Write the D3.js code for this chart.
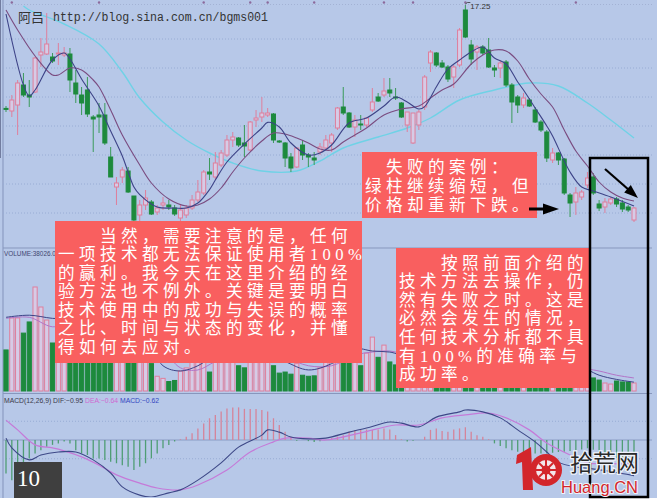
<!DOCTYPE html>
<html><head><meta charset="utf-8">
<script src="https://cdn.jsdelivr.net/npm/d3@7"></script>
<style>html,body{margin:0;padding:0;background:#fff}svg{display:block}</style>
</head><body><div id="chart"></div>
<script>
const W = 657, H = 502;

// ---- daily price data (one entry per trading day) ----
const opens  = [12.03,11.90,12.20,13.20,12.70,12.85,14.70,14.75,14.60,14.75,14.70,14.75,13.30,12.70,12.95,11.60,11.70,11.70,9.60,8.10,8.60,8.90,7.65,6.70,7.20,7.35,6.85,7.20,7.20,7.05,6.55,6.70,7.05,7.45,7.80,8.85,8.60,9.20,9.70,10.45,10.55,10.30,9.95,11.45,11.60,11.70,11.75,10.40,10.30,9.60,9.10,10.20,9.70,9.55,9.85,10.05,10.30,11.05,12.10,11.80,11.10,11.25,11.20,11.95,12.60,12.70,12.95,12.60,12.30,11.20,10.30,11.20,12.10,14.30,14.80,14.30,14.10,13.60,14.20,16.95,15.20,14.85,15.10,14.95,14.05,14.05,14.35,13.20,12.60,12.20,12.45,11.95,11.35,10.85,9.45,9.80,9.50,7.70,7.35,7.60,8.20,8.60,7.25,7.10,7.30,7.50,7.30,7.10,6.45];
const highs  = [12.15,12.70,13.45,13.80,13.45,14.60,15.55,16.80,14.80,15.30,15.10,15.05,13.95,13.10,13.60,11.70,12.30,12.30,10.10,8.60,9.10,9.10,7.65,7.45,7.95,7.45,7.20,7.60,7.45,7.20,7.20,7.20,7.70,8.45,8.95,9.55,9.85,9.95,10.70,10.85,10.60,11.20,11.40,11.95,12.60,12.05,11.80,10.45,10.35,9.80,10.10,10.45,9.80,9.85,10.30,10.70,10.80,12.10,13.10,11.85,11.70,11.70,11.60,13.05,12.80,13.55,13.55,13.05,12.35,11.85,11.80,11.95,13.70,14.95,14.85,14.45,14.20,14.20,16.05,17.25,15.45,15.20,15.20,15.55,14.20,14.45,14.45,13.30,12.70,12.80,12.55,12.10,11.45,10.95,10.05,9.85,9.55,7.80,8.10,7.95,8.85,8.80,7.45,7.55,7.60,7.60,7.45,7.20,7.10];
const lows   = [11.85,11.60,10.70,12.60,12.10,12.80,14.10,14.70,14.30,14.20,14.60,12.85,12.30,11.70,11.60,9.85,10.80,10.20,8.60,7.20,8.30,7.80,6.35,6.20,6.95,6.70,6.70,6.95,6.95,6.65,6.35,6.55,6.95,7.35,7.70,8.45,8.45,9.10,9.60,10.10,10.10,9.60,9.90,11.10,11.35,11.60,10.30,10.30,9.10,8.85,9.05,9.45,9.10,9.20,9.70,9.95,9.85,10.95,11.70,11.05,10.60,10.95,11.10,11.85,12.35,12.60,12.60,12.45,11.55,10.85,10.25,10.95,11.95,13.85,14.10,14.05,13.35,13.05,14.10,15.55,14.20,13.95,14.70,14.05,13.60,13.55,13.10,11.30,11.80,12.05,12.10,11.30,10.85,9.35,9.30,9.20,7.70,6.60,6.70,7.45,8.05,7.70,6.90,6.80,7.20,7.10,6.85,6.85,6.35];
const closes = [11.98,12.45,13.30,12.70,12.60,14.55,14.85,15.25,14.40,14.80,14.80,13.45,12.75,12.30,11.75,11.50,11.60,10.30,8.60,8.30,8.95,7.85,6.45,7.20,7.55,6.75,7.05,7.30,7.10,6.75,6.95,7.05,7.45,7.85,8.85,8.75,9.30,9.80,10.45,10.60,10.20,10.15,11.35,11.55,11.80,11.80,10.45,10.35,9.55,9.05,10.05,9.70,9.60,9.45,10.10,10.45,10.70,12.05,11.80,11.10,11.45,11.20,11.55,12.35,12.40,12.90,12.80,12.55,11.60,11.85,11.80,11.85,13.60,14.85,14.20,14.10,13.50,14.10,15.95,15.60,14.50,15.10,14.80,14.10,13.95,14.30,13.20,12.35,12.20,12.55,12.15,11.35,10.95,9.55,9.80,9.45,7.80,7.30,7.80,7.85,8.55,7.80,7.05,7.35,7.50,7.25,7.00,6.95,7.05];
const volumes = [195000,347000,347000,275000,328000,494000,399000,337000,228000,300000,280000,420000,380000,330000,400000,250000,220000,360000,420000,260000,200000,300000,350000,250000,150000,130000,70000,60000,45000,50000,95000,110000,150000,200000,260000,90000,200000,180000,220000,160000,120000,110000,250000,170000,200000,140000,120000,85000,90000,80000,130000,75000,70000,72000,110000,140000,160000,300000,220000,150000,140000,120000,180000,256000,160000,218000,138000,124000,150000,140000,200000,150000,280000,330000,260000,180000,200000,220000,380000,450000,300000,250000,200000,260000,150000,160000,240000,280000,150000,120000,100000,140000,120000,200000,100000,90000,180000,150000,130000,80000,100000,62000,52000,38000,33000,47500,43000,43000,38026];
const macdHist = [-0.89,-1.07,-0.80,-0.67,-0.49,-0.36,-0.27,-0.18,-0.13,-0.09,-0.04,-0.09,-0.27,-0.36,-0.40,-0.49,-0.49,-0.53,-0.58,-0.62,-0.67,-0.71,-0.80,-0.71,-0.62,-0.49,-0.36,-0.22,-0.13,-0.04,0.02,0.09,0.18,0.31,0.44,0.58,0.67,0.76,0.84,0.87,0.87,0.83,0.83,0.83,0.80,0.76,0.58,0.40,0.22,0.09,-0.02,0.00,-0.03,-0.05,-0.03,0.01,0.05,0.09,0.13,0.22,0.27,0.28,0.28,0.27,0.28,0.31,0.28,0.13,0.02,-0.04,-0.02,0.00,0.09,0.27,0.31,0.24,0.22,0.28,0.31,0.34,0.22,0.13,0.09,0.02,-0.09,-0.16,-0.22,-0.27,-0.31,-0.34,-0.36,-0.36,-0.36,-0.36,-0.34,-0.32,-0.31,-0.29,-0.27,-0.25,-0.22,-0.26,-0.32,-0.38,-0.43,-0.48,-0.53,-0.58,-0.62];

// ---- indicator lines: [day index, value] ----
const ma5 = [[0,16.75],[3,13.20],[4,12.65],[5,12.95],[8,14.45],[10,14.80],[11,14.50],[13,13.50],[16,12.15],[18,10.90],[20,9.65],[21,8.85],[22,8.10],[23,7.72],[26,7.10],[29,7.05],[31,7.05],[33,7.30],[35,7.97],[36,8.45],[38,9.35],[41,10.25],[44,11.05],[45,11.33],[47,11.10],[49,10.30],[52,9.70],[54,9.80],[56,10.20],[59,11.30],[62,11.55],[65,12.15],[67,12.60],[69,12.35],[71,12.00],[72,12.12],[74,13.10],[76,14.00],[78,14.45],[80,14.85],[82,15.10],[84,14.55],[86,14.25],[88,13.35],[89,12.95],[91,12.05],[93,11.15],[94,10.65],[97,8.85],[99,8.10],[101,7.90],[104,7.60],[108,7.15]];
const ma10 = [[0,16.95],[2,15.95],[5,14.65],[8,13.70],[9,13.70],[11,14.05],[13,13.95],[15,13.45],[16,13.10],[18,11.95],[20,10.70],[23,9.20],[25,8.30],[28,7.50],[31,7.15],[33,7.20],[35,7.50],[37,8.05],[39,8.85],[41,9.55],[44,10.40],[46,10.80],[48,10.75],[50,10.55],[52,10.30],[54,10.00],[56,9.95],[58,10.35],[60,10.70],[62,11.05],[65,11.70],[68,12.00],[71,12.15],[73,12.55],[75,12.95],[77,13.25],[80,14.25],[82,14.70],[84,14.95],[86,14.90],[88,14.40],[90,13.50],[92,12.75],[94,12.10],[96,10.95],[98,9.90],[100,9.15],[102,8.35],[104,7.85],[106,7.55],[108,7.40]];
const ma60 = [[3,17.15],[4,16.95],[10,16.25],[16,15.25],[20,13.85],[23,12.55],[27,11.35],[31,10.45],[35,9.80],[39,9.30],[44,8.90],[50,8.90],[54,9.40],[58,10.05],[64,10.60],[69,11.05],[73,11.55],[78,12.45],[84,12.95],[90,13.30],[95,13.15],[100,12.30],[104,11.45],[108,10.55]];
const volMa5 = [[0,350000],[4,360000],[8,345000],[12,340000],[16,330000],[20,330000],[24,250000],[27,120000],[30,95000],[33,120000],[36,170000],[40,200000],[44,190000],[48,140000],[52,100000],[56,130000],[60,200000],[63,190000],[66,185000],[69,170000],[73,240000],[77,270000],[80,300000],[84,230000],[88,190000],[92,130000],[96,130000],[100,100000],[102,75000],[105,55000],[108,42000]];
const volMa10 = [[0,345000],[4,350000],[8,305000],[12,330000],[16,330000],[20,320000],[24,290000],[27,200000],[30,110000],[33,100000],[36,140000],[40,180000],[44,190000],[48,160000],[52,120000],[56,120000],[60,170000],[63,185000],[66,190000],[69,175000],[73,200000],[77,240000],[80,280000],[84,260000],[88,220000],[92,170000],[96,130000],[100,105000],[102,95000],[105,75000],[108,62000]];
const dif = [[0,0.05],[1,-0.21],[4,-0.53],[6,-0.40],[9,-0.32],[12,-0.32],[15,-0.53],[18,-0.88],[20,-1.25],[23,-1.47],[25,-1.52],[28,-1.41],[30,-1.33],[33,-1.07],[37,-0.61],[40,-0.19],[44,0.13],[45,0.27],[47,0.21],[49,0.08],[52,0.03],[55,0.05],[59,0.21],[62,0.32],[66,0.48],[68,0.45],[71,0.35],[74,0.61],[78,0.75],[79,0.80],[82,0.75],[85,0.59],[88,0.27],[91,-0.05],[93,-0.32],[95,-0.59],[98,-0.72],[100,-0.75],[104,-0.84],[108,-0.95]];
const dea = [[0,0.53],[2,0.27],[5,-0.13],[8,-0.21],[10,-0.29],[13,-0.45],[16,-0.67],[19,-0.93],[23,-1.15],[26,-1.28],[30,-1.33],[33,-1.20],[38,-0.80],[42,-0.32],[46,-0.05],[48,0.05],[52,0.05],[55,0.00],[61,0.19],[67,0.40],[71,0.40],[75,0.59],[79,0.67],[83,0.72],[86,0.59],[90,0.27],[93,-0.08],[97,-0.40],[100,-0.61],[104,-0.63],[108,-0.64]];

// ---- reference levels and markers ----
const priceGrid = [15.5, 14.05, 12.6, 11.15, 9.7, 8.25, 6.8];
const macdGrid = [0.5, -0.5];
const eventDays = [1, 16, 34, 42, 45, 53, 65, 70, 79, 98];
const peakDay = 79;
const cursorDay = 101.5;

// ---- annotation texts ----
const noteMain = ["\u3000\u3000当然，需要注意的是，任何","一项技术都无法保证使用者100%","的赢利。我今天在这里介绍的经","验方法也不例外。关键是要明白","技术使用中的成功与失误的概率","之比、时间与状态的变化，并懂","得如何去应对。"];
const noteRight = ["\u3000\u3000按照前面介绍的","技术方法去操作，仍","然有失败之时。这是","必然会发生的情况，","任何技术分析都不具","有100%的准确率与","成功率。"];
const noteFail = ["\u3000失败的案例：","绿柱继续缩短，但","价格却重新下跌。"];

const days = d3.range(opens.length);
const x = d3.scalePoint().domain(days).range([6, 634]);
const yP = d3.scaleLinear().domain([17.45, 5.0]).range([0, 249]);
const yV = d3.scaleLinear().domain([0, 630000]).range([391, 258.37]);
const yM = d3.scaleLinear().domain([-1.5, 1.5]).range([496.25, 383.75]);

const UP = "#df7f9c", UPFILL = "#d6cbe6", DOWN = "#1d8a3d";

const svg = d3.select("#chart").append("svg").attr("width", W).attr("height", H);
svg.append("rect").attr("width", W).attr("height", H).attr("fill", "#fff");
svg.append("rect").attr("width", W).attr("height", 498).attr("fill", "#b7c8e8");

const defs = svg.append("defs");
defs.append("clipPath").attr("id", "cp").append("rect").attr("x", 3).attr("y", 5).attr("width", 650).attr("height", 242);
defs.append("clipPath").attr("id", "cv").append("rect").attr("x", 3).attr("y", 249).attr("width", 650).attr("height", 143);
defs.append("clipPath").attr("id", "cm").append("rect").attr("x", 3).attr("y", 395).attr("width", 650).attr("height", 102);

// frame lines
svg.append("line").attr("x1", 3).attr("x2", 3).attr("y1", 0).attr("y2", 498).attr("stroke", "#8393bb");
svg.append("line").attr("x1", 3).attr("x2", 652).attr("y1", 4.5).attr("y2", 4.5).attr("stroke", "#a3b2d4").attr("stroke-dasharray", "1,2");
svg.append("line").attr("x1", 3).attr("x2", 652).attr("y1", 248).attr("y2", 248).attr("stroke", "#8797bd");
svg.append("line").attr("x1", 3).attr("x2", 652).attr("y1", 393.5).attr("y2", 393.5).attr("stroke", "#8797bd");

// event markers along the top edge
svg.append("g").selectAll("circle").data(eventDays).join("circle")
  .attr("cx", d => x(d)).attr("cy", 2.5).attr("r", 1.2).attr("fill", "#8c6a9c");

// ---------- price panel ----------
const gp = svg.append("g").attr("clip-path", "url(#cp)");
gp.selectAll(".grid").data(priceGrid).join("line")
  .attr("x1", 3).attr("x2", 652).attr("y1", d => yP(d)).attr("y2", d => yP(d))
  .attr("stroke", "#98acd4").attr("stroke-dasharray", "1,2");

const curve = d3.curveCatmullRom.alpha(0.5);
const lineP = d3.line().x(d => x(d[0])).y(d => yP(d[1])).curve(curve);
gp.append("path").attr("d", lineP(ma60)).attr("fill", "none").attr("stroke", "#6fd2e6").attr("stroke-width", 1.4);

const candles = gp.selectAll(".c").data(days).join("g");
candles.append("line")
  .attr("x1", i => x(i)).attr("x2", i => x(i))
  .attr("y1", i => yP(highs[i])).attr("y2", i => yP(lows[i]))
  .attr("stroke", i => closes[i] >= opens[i] ? UP : "#3b9a5a").attr("stroke-width", 1);
candles.append("rect")
  .attr("x", i => x(i) - 2).attr("width", 4)
  .attr("y", i => yP(Math.max(opens[i], closes[i])))
  .attr("height", i => Math.max(1, Math.abs(yP(opens[i]) - yP(closes[i]))))
  .attr("fill", i => closes[i] >= opens[i] ? UPFILL : DOWN)
  .attr("stroke", i => closes[i] >= opens[i] ? UP : DOWN).attr("stroke-width", 1);

gp.append("path").attr("d", lineP(ma10)).attr("fill", "none").attr("stroke", "#7a4c80").attr("stroke-width", 1.1);
gp.append("path").attr("d", lineP(ma5)).attr("fill", "none").attr("stroke", "#3d4387").attr("stroke-width", 1.1);

// peak price label
const px = x(peakDay), py = yP(highs[peakDay]);
svg.append("path").attr("d", `M${px},${py} L${px + 2},${py - 1.5} L${px + 5},${py - 1.5}`)
  .attr("fill", "none").attr("stroke", "#333").attr("stroke-width", 0.8);
svg.append("text").attr("x", px + 5).attr("y", py + 5).attr("font-family", "Liberation Sans, Arial")
  .attr("font-size", 8).attr("fill", "#333").text(d3.format(".2f")(highs[peakDay]));

// cursor line
svg.append("line").attr("x1", x(cursorDay)).attr("x2", x(cursorDay)).attr("y1", 0).attr("y2", 158)
  .attr("stroke", "#2e3358").attr("stroke-width", 1);

// blog header
svg.append("text").attr("x", 18).attr("y", 22).attr("font-family", "Noto Sans CJK SC").attr("font-size", 13)
  .attr("fill", "#333").text("阿吕");
svg.append("text").attr("x", 53).attr("y", 21).attr("font-family", "Liberation Mono, monospace").attr("font-size", 12)
  .attr("fill", "#333").attr("textLength", 215).attr("lengthAdjust", "spacingAndGlyphs").text("http://blog.sina.com.cn/bgms001");

// ---------- volume panel ----------
const gv = svg.append("g").attr("clip-path", "url(#cv)");
gv.selectAll("rect").data(days).join("rect")
  .attr("x", i => x(i) - 2.1).attr("width", 4.2)
  .attr("y", i => yV(volumes[i])).attr("height", i => yV(0) - yV(volumes[i]))
  .attr("fill", i => closes[i] >= opens[i] ? UPFILL : DOWN)
  .attr("stroke", i => closes[i] >= opens[i] ? UP : DOWN).attr("stroke-width", 1);
const lineV = d3.line().x(d => x(d[0])).y(d => yV(d[1])).curve(curve);
gv.append("path").attr("d", lineV(volMa10)).attr("fill", "none").attr("stroke", "#b274c8").attr("stroke-width", 1);
gv.append("path").attr("d", lineV(volMa5)).attr("fill", "none").attr("stroke", "#3d4387").attr("stroke-width", 1);
svg.append("text").attr("x", 4).attr("y", 255.5).attr("font-family", "Liberation Sans, Arial").attr("font-size", 6.4)
  .attr("fill", "#3e4670").text("VOLUME:" + d3.format(".2f")(volumes[volumes.length - 1]));

// ---------- MACD panel ----------
const gm = svg.append("g").attr("clip-path", "url(#cm)");
gm.selectAll(".g").data(macdGrid).join("line")
  .attr("x1", 3).attr("x2", 652).attr("y1", d => yM(d)).attr("y2", d => yM(d))
  .attr("stroke", "#98acd4").attr("stroke-dasharray", "1,2");
gm.append("line").attr("x1", 3).attr("x2", 652).attr("y1", yM(0)).attr("y2", yM(0)).attr("stroke", "#8a9cc4");
gm.selectAll(".h").data(days).join("line")
  .attr("x1", i => x(i)).attr("x2", i => x(i))
  .attr("y1", yM(0)).attr("y2", i => yM(macdHist[i]))
  .attr("stroke", i => macdHist[i] >= 0 ? "#d5849a" : "#4f9d74").attr("stroke-width", 1.3);
const lineM = d3.line().x(d => x(d[0])).y(d => yM(d[1])).curve(curve);
gm.append("path").attr("d", lineM(dea)).attr("fill", "none").attr("stroke", "#c57ad8").attr("stroke-width", 1.2);
gm.append("path").attr("d", lineM(dif)).attr("fill", "none").attr("stroke", "#3d4887").attr("stroke-width", 1.1);
const ml = svg.append("text").attr("x", 4).attr("y", 402.5).attr("font-family", "Liberation Sans, Arial").attr("font-size", 6.8);
ml.append("tspan").attr("fill", "#3a3a4a").text("MACD(12,26,9) DIF:" + d3.format(".2f")(dif[dif.length - 1][1]) + " ");
ml.append("tspan").attr("fill", "#d067d0").text("DEA:" + d3.format(".2f")(dea[dea.length - 1][1]) + " ");
ml.append("tspan").attr("fill", "#3346c0").text("MACD:" + d3.format(".2f")(macdHist[macdHist.length - 1]));

// ---------- annotation boxes ----------
function noteBox(rx, ry, rw, rh, lines, tx, ty, pitch) {
  const g = svg.append("g");
  g.append("rect").attr("x", rx).attr("y", ry).attr("width", rw).attr("height", rh).attr("fill", "#f95f5f");
  g.selectAll("text").data(lines).join("text")
    .attr("x", tx).attr("y", (d, i) => ty + i * pitch)
    .attr("font-family", "'Liberation Serif', 'Noto Sans CJK SC'").attr("font-size", 16.6)
    .attr("letter-spacing", 4.4)
    .attr("fill", "#fff").text(d => d);
}
noteBox(55, 221, 307, 142, noteMain, 58, 241.5, 18.5);
noteBox(396, 248, 193, 140, noteRight, 399, 268.5, 18.6);
noteBox(362, 152, 175, 66, noteFail, 365, 173, 19);

// arrows
svg.append("line").attr("x1", 529).attr("x2", 545).attr("y1", 209).attr("y2", 209).attr("stroke", "#000").attr("stroke-width", 3);
svg.append("path").attr("d", "M543,203.5 L559,209 L543,214.5 Z").attr("fill", "#000");
svg.append("line").attr("x1", 605).attr("y1", 169).attr("x2", 629).attr("y2", 190).attr("stroke", "#000").attr("stroke-width", 2.2);
svg.append("path").attr("d", "M638,198 L624.2,192.6 L630.8,185.1 Z").attr("fill", "#000");

// highlight frame
svg.append("rect").attr("x", 590).attr("y", 158).attr("width", 58).attr("height", 339)
  .attr("fill", "none").attr("stroke", "#000").attr("stroke-width", 2.5);

// page number
svg.append("rect").attr("x", 14).attr("y", 462).attr("width", 48).attr("height", 36).attr("fill", "#3f3f3f");
svg.append("text").attr("x", 17).attr("y", 486).attr("font-family", "Liberation Serif, DejaVu Serif").attr("font-size", 23)
  .attr("fill", "#fff").text("10");

// site mark
const lg = svg.append("g");
lg.append("path").attr("d", "M517,455 L531,447 L533,490 L523,490 L522,462 L516,464 Z").attr("fill", "#d3262b");
lg.append("circle").attr("cx", 546).attr("cy", 470).attr("r", 16).attr("fill", "#d3262b");
lg.append("circle").attr("cx", 546).attr("cy", 470).attr("r", 10).attr("fill", "#f3e6ea");
lg.selectAll(".sp").data(d3.range(8)).join("line")
  .attr("x1", 546).attr("y1", 470)
  .attr("x2", k => 546 + 10 * Math.cos(k * Math.PI / 4)).attr("y2", k => 470 + 10 * Math.sin(k * Math.PI / 4))
  .attr("stroke", "#d3262b").attr("stroke-width", 2);
lg.append("circle").attr("cx", 546).attr("cy", 470).attr("r", 4.5).attr("fill", "#d3262b");
lg.append("text").attr("x", 570).attr("y", 471).attr("font-family", "'Liberation Sans', 'Noto Sans CJK SC'").attr("font-size", 23)
  .attr("fill", "#2a2a2a").attr("stroke", "#eef2fa").attr("stroke-width", 2.5).attr("paint-order", "stroke").text("拾荒网");
lg.append("text").attr("x", 561).attr("y", 492.5).attr("font-family", "Liberation Sans, Arial").attr("font-size", 16.5)
  .attr("fill", "#d3262b").attr("stroke", "#eef2fa").attr("stroke-width", 2).attr("paint-order", "stroke").text("Huang.CN");
</script>
</body></html>
